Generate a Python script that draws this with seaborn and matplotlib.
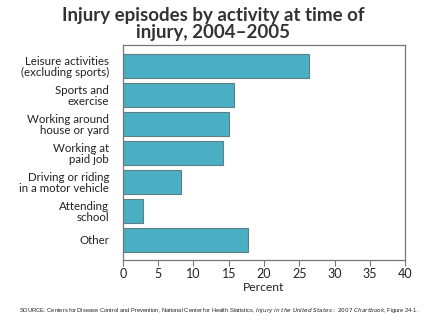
import matplotlib
matplotlib.use("Agg")
import matplotlib.pyplot as plt
import seaborn as sns
import pandas as pd

categories = ["Leisure activities\n(excluding sports)", "Sports and\nexercise",
              "Working around\nhouse or yard", "Working at\npaid job",
              "Driving or riding\nin a motor vehicle", "Attending\nschool", "Other"]
percent = [26.4, 15.7, 15.1, 14.2, 8.2, 2.8, 17.7]
xticks = [0, 5, 10, 15, 20, 25, 30, 35, 40]

sns.set_theme(style="white")
plt.rcParams['font.family'] = ['Lato', 'DejaVu Sans']

df = pd.DataFrame({"cat": categories, "pct": percent})

fig = plt.figure(figsize=(4.4, 3.3), dpi=100)
ax = fig.add_axes([0.2795, 0.2121, 0.641, 0.6506])
sns.barplot(data=df, x="pct", y="cat", orient="h", color="#4AAFC2",
            saturation=1, width=0.83, edgecolor="#5f7f86", linewidth=0.8, ax=ax)
ax.set_xlim(0, 40)
ax.set_ylim(6.7, -0.7)
ax.set_xticks(xticks)
ax.set_xticklabels([str(t) for t in xticks], fontsize=9, color="#222222")
ax.tick_params(axis="x", bottom=True, length=4, width=0.8, color="#777777", pad=2)
ax.tick_params(axis="y", left=False, pad=4)
for lab in ax.get_yticklabels():
    lab.set_fontsize(8.3)
    lab.set_color("#222222")
    lab.set_linespacing(1.0)
ax.set_ylabel("")
ax.set_xlabel("Percent", fontsize=8.7, color="#222222", labelpad=1)
for s in ax.spines.values():
    s.set_color("#777777")
    s.set_linewidth(0.9)
    s.set_visible(True)

fig.text(0.484, 0.928, "Injury episodes by activity at time of\ninjury, 2004\u20132005",
         ha="center", va="center", fontsize=13.5, fontweight="bold", color="#333333",
         linespacing=1.0)
fig.text(0.043, 0.06, "SOURCE: Centers for Disease Control and Prevention, National Center for Health Statistics, "
         "$\\it{Injury\\ in\\ the\\ United\\ States{:}\\ 2007\\ Chartbook}$, Figure 24-1.",
         ha="left", va="center", fontsize=4.15, family=["Liberation Sans"], color="#222222")

fig.savefig("out.png", dpi=100)
